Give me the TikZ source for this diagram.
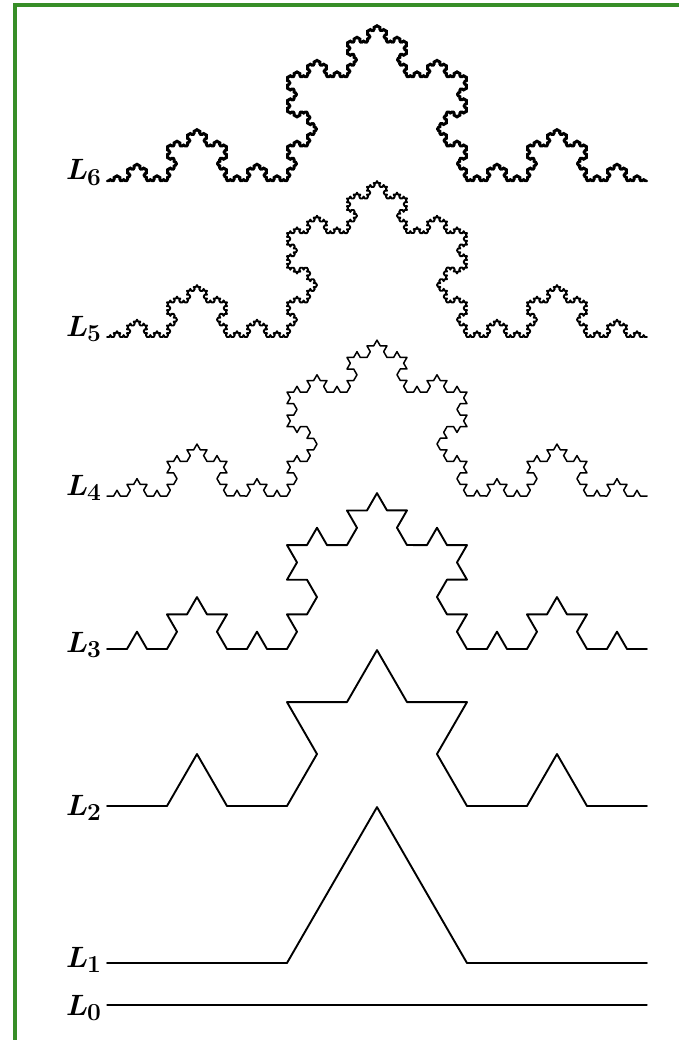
\documentclass[tikz,border=0pt]{standalone}
\usepackage{tikz}
\usetikzlibrary{decorations.fractals}
\definecolor{frame}{HTML}{378E27}

\begin{document}
\begin{tikzpicture}[
  x=1pt,y=-1pt,
  decoration=Koch snowflake,
  curve/.style={line width=1.9pt,line join=round,line cap=round},
  lab/.style={anchor=base west,inner sep=0pt,font=\Huge\boldmath,scale=1.18,transform shape}
]
  \useasboundingbox (0,0) rectangle (679,1040);
  % green frame, top and left only
  \fill[frame] (13,3) rectangle (679,7);
  \fill[frame] (13,3) rectangle (17,1040);
  % ends of each level and its label
  \foreach \k/\y/\ly in {0/1005/1015,1/963/967,2/806/815,3/649/652,4/496/495,5/337/336,6/181/180} {
    \coordinate (s\k) at (107,\y);
    \coordinate (e\k) at (647,\y);
    \node[lab] (lab\k) at (66,\ly) {$L_{\kern-1pt\k}$};
  }
  \draw[curve,line width=1.3pt] (s0) -- (e0);
  \draw[curve] decorate{(s1) -- (e1)};
  \draw[curve] decorate{decorate{(s2) -- (e2)}};
  \draw[curve] decorate{decorate{decorate{(s3) -- (e3)}}};
  \draw[curve,line width=1.5pt] decorate{decorate{decorate{decorate{(s4) -- (e4)}}}};
  \draw[curve] decorate{decorate{decorate{decorate{decorate{(s5) -- (e5)}}}}};
  \draw[curve,line width=2.2pt] decorate{decorate{decorate{decorate{decorate{decorate{(s6) -- (e6)}}}}}};
\end{tikzpicture}
\end{document}
